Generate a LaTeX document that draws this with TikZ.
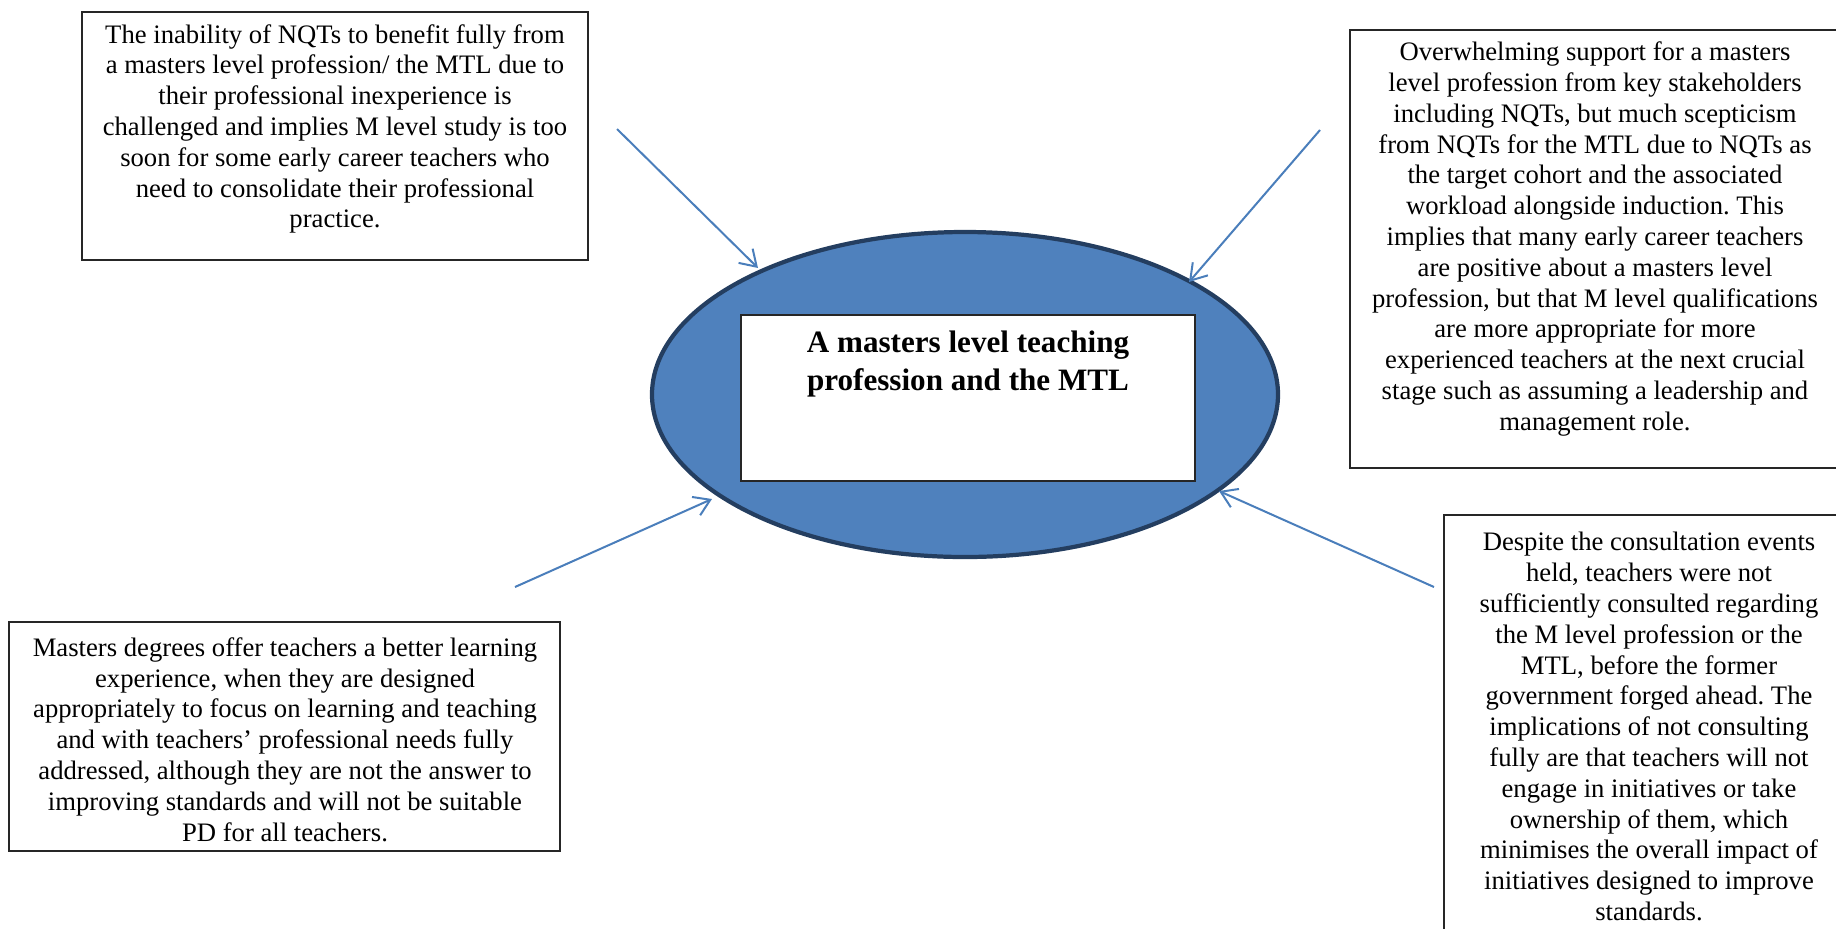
\documentclass[tikz,border=0pt]{standalone}
\usepackage{fontspec}
\setmainfont{Liberation Serif}
\usetikzlibrary{arrows.meta,shapes.geometric}
\definecolor{linkblue}{RGB}{74,126,187}
\definecolor{ovalfill}{RGB}{79,129,189}
\definecolor{ovaledge}{RGB}{36,62,96}
\frenchspacing
\begin{document}
\begin{tikzpicture}[x=0.45pt,y=-0.45pt,
  notebox/.style={draw=black!85,line width=0.6pt,fill=white,inner sep=0pt},
  notetext/.style={align=center,inner sep=0pt,font=\fontsize{12}{13.86}\selectfont},
  conn/.style={draw=linkblue,line width=0.9pt,-{Straight Barb[length=7pt,width=9pt,line width=0.9pt]}}]
\useasboundingbox (0,0) rectangle (1836,928);

% central oval with its title panel
\node[ellipse,draw=ovaledge,line width=1.9pt,fill=ovalfill,inner sep=0pt,
      minimum width=281.7pt,minimum height=146.25pt] (oval) at (965,394.5) {};
\node[notebox,minimum width=204.3pt,minimum height=74.7pt] (panel) at (968,398) {};
\node[align=center,inner sep=0pt,font=\fontsize{14}{16.9}\selectfont\bfseries] (title) at (968,364)
  {A masters level teaching\\profession and the MTL};

% surrounding findings
\node[notebox,minimum width=227.7pt,minimum height=111.6pt] (b1) at (335,136) {};
\node[notetext] (t1) at (335,129)
  {The inability of NQTs to benefit fully from\\
   a masters level profession/ the MTL due to\\
   their professional inexperience is\\
   challenged and implies M level study is too\\
   soon for some early career teachers who\\
   need to consolidate their professional\\
   practice.};

\node[notebox,minimum width=220.5pt,minimum height=197.1pt] (b2) at (1595,249) {};
\node[notetext] (t2) at (1595,239)
  {Overwhelming support for a masters\\
   level profession from key stakeholders\\
   including NQTs, but much scepticism\\
   from NQTs for the MTL due to NQTs as\\
   the target cohort and the associated\\
   workload alongside induction. This\\
   implies that many early career teachers\\
   are positive about a masters level\\
   profession, but that M level qualifications\\
   are more appropriate for more\\
   experienced teachers at the next crucial\\
   stage such as assuming a leadership and\\
   management role.};

\node[notebox,minimum width=248pt,minimum height=103pt] (b3) at (284.5,736.5) {};
\node[notetext] (t3) at (285,739.5)
  {Masters degrees offer teachers a better learning\\
   experience, when they are designed\\
   appropriately to focus on learning and teaching\\
   and with teachers’ professional needs fully\\
   addressed, although they are not the answer to\\
   improving standards and will not be suitable\\
   PD for all teachers.};

\node[notebox,minimum width=184.5pt,minimum height=200.25pt] (b4) at (1649,737.5) {};
\node[notetext] (t4) at (1649,726.6)
  {Despite the consultation events\\
   held, teachers were not\\
   sufficiently consulted regarding\\
   the M level profession or the\\
   MTL, before the former\\
   government forged ahead. The\\
   implications of not consulting\\
   fully are that teachers will not\\
   engage in initiatives or take\\
   ownership of them, which\\
   minimises the overall impact of\\
   initiatives designed to improve\\
   standards.};

% arrows pointing at the oval
\coordinate (s1) at (617,129);  \coordinate (e1) at (758,268);
\coordinate (s2) at (1320,130); \coordinate (e2) at (1189,282);
\coordinate (s3) at (515,587);  \coordinate (e3) at (712,499);
\coordinate (s4) at (1434,587); \coordinate (e4) at (1219,491);
\draw[conn] (s1) -- (e1);
\draw[conn] (s2) -- (e2);
\draw[conn] (s3) -- (e3);
\draw[conn] (s4) -- (e4);
\end{tikzpicture}
\end{document}
